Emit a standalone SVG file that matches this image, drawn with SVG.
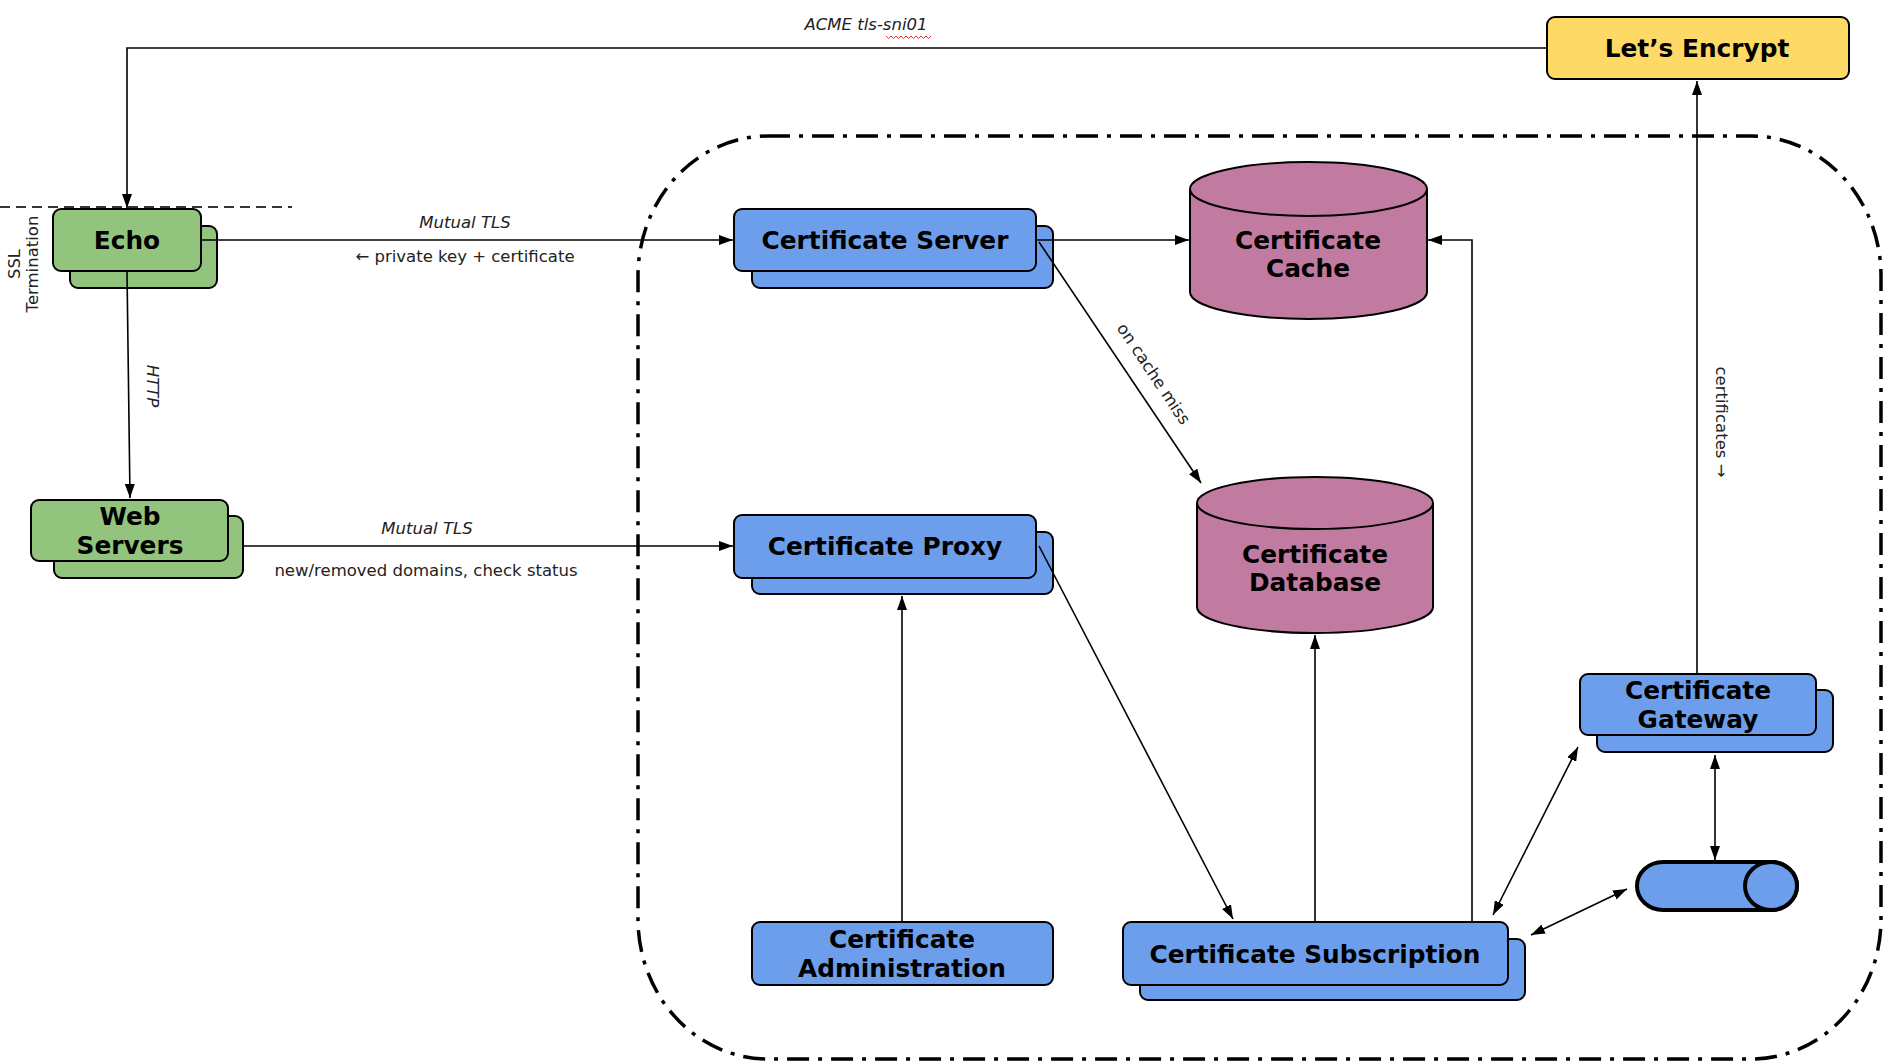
<svg xmlns="http://www.w3.org/2000/svg" width="1883" height="1061" viewBox="0 0 1883 1061">
<style>
.box{stroke:#000;stroke-width:2}
.g{fill:#93c47d}
.b{fill:#6d9eeb}
.m{fill:#c27ba0}
.y{fill:#ffd966}
.lbl{font-family:"DejaVu Sans",Verdana,sans-serif;font-weight:bold;font-size:24.8px;text-anchor:middle;fill:#000}
.sm{font-family:"DejaVu Sans",Verdana,sans-serif;font-size:16.5px;fill:#222;text-anchor:middle}
.it{font-style:italic}
.ln{fill:none;stroke:#000;stroke-width:1.6}
.a{marker-end:url(#ah)}
.bi{marker-start:url(#ah);marker-end:url(#ah)}
</style>
<defs>
<marker id="ah" viewBox="0 0 14 10" refX="14" refY="5" markerWidth="14" markerHeight="10" markerUnits="userSpaceOnUse" orient="auto-start-reverse">
<path d="M0,0 L14,5 L0,10 z" fill="#000"/>
</marker>
</defs>
<rect width="1883" height="1061" fill="#fff"/>

<g id="boundary">
<rect x="638" y="136" width="1243" height="923" rx="130" ry="140" fill="none" stroke="#000" stroke-width="3.5" stroke-dasharray="22 9 4 9"/>
</g>
<g id="ssl-termination">
<path d="M0,207 H292" stroke="#333" stroke-width="2" stroke-dasharray="10 6" fill="none"/>
<text class="sm" transform="rotate(-90 20 264)" x="20" y="264">SSL</text>
<text class="sm" transform="rotate(-90 38 264)" x="38" y="264">Termination</text>
</g>

<g id="lets-encrypt">
<rect class="box y" x="1547" y="17" width="302" height="62" rx="8"/>
<text class="lbl" x="1697" y="57">Let’s Encrypt</text>
</g>
<g id="echo">
<rect class="box g" x="70" y="226" width="147" height="62" rx="8"/>
<rect class="box g" x="53" y="209" width="148" height="62" rx="8"/>
<text class="lbl" x="127" y="249">Echo</text>
</g>
<g id="web-servers">
<rect class="box g" x="54" y="516" width="189" height="62" rx="8"/>
<rect class="box g" x="31" y="500" width="197" height="61" rx="8"/>
<text class="lbl" x="130" y="525">Web</text>
<text class="lbl" x="130" y="554">Servers</text>
</g>
<g id="certificate-server">
<rect class="box b" x="752" y="226" width="301" height="62" rx="8"/>
<rect class="box b" x="734" y="209" width="302" height="62" rx="8"/>
<text class="lbl" x="885" y="249">Certificate Server</text>
</g>
<g id="certificate-proxy">
<rect class="box b" x="752" y="532" width="301" height="62" rx="8"/>
<rect class="box b" x="734" y="515" width="302" height="63" rx="8"/>
<text class="lbl" x="885" y="555">Certificate Proxy</text>
</g>
<g id="certificate-cache">
<path class="box m" d="M1190,189 A118.5,27 0 0 1 1427,189 V292 A118.5,27 0 0 1 1190,292 Z"/>
<path class="box" fill="none" d="M1190,189 A118.5,27 0 0 0 1427,189"/>
<text class="lbl" x="1308" y="249">Certificate</text>
<text class="lbl" x="1308" y="277">Cache</text>
</g>
<g id="certificate-database">
<path class="box m" d="M1197,503 A118,26 0 0 1 1433,503 V607 A118,26 0 0 1 1197,607 Z"/>
<path class="box" fill="none" d="M1197,503 A118,26 0 0 0 1433,503"/>
<text class="lbl" x="1315" y="563">Certificate</text>
<text class="lbl" x="1315" y="591">Database</text>
</g>
<g id="certificate-administration">
<rect class="box b" x="752" y="922" width="301" height="63" rx="8"/>
<text class="lbl" x="902" y="948">Certificate</text>
<text class="lbl" x="902" y="977">Administration</text>
</g>
<g id="certificate-subscription">
<rect class="box b" x="1140" y="939" width="385" height="61" rx="8"/>
<rect class="box b" x="1123" y="922" width="385" height="63" rx="8"/>
<text class="lbl" x="1315" y="963">Certificate Subscription</text>
</g>
<g id="certificate-gateway">
<rect class="box b" x="1597" y="690" width="236" height="62" rx="8"/>
<rect class="box b" x="1580" y="674" width="236" height="61" rx="8"/>
<text class="lbl" x="1698" y="699">Certificate</text>
<text class="lbl" x="1698" y="728">Gateway</text>
</g>
<g id="queue">
<path class="b" stroke="#000" stroke-width="4" d="M1663,862 H1771 A26,24 0 0 1 1771,910 H1663 A26,24 0 0 1 1663,862 Z"/>
<ellipse class="b" stroke="#000" stroke-width="4" cx="1771" cy="886" rx="26" ry="24"/>
</g>

<g id="connectors">
<path class="ln a" d="M1547,48 H127 V208"/>
<path class="ln a" d="M201,240 H733"/>
<path class="ln a" d="M1036,240 H1189"/>
<path class="ln a" d="M1039,242 L1201,483"/>
<path class="ln a" d="M127,271 L130,498"/>
<path class="ln a" d="M243,546 H733"/>
<path class="ln a" d="M1039,546 L1233,919"/>
<path class="ln a" d="M902,922 V596"/>
<path class="ln a" d="M1315,922 V635"/>
<path class="ln a" d="M1472,922 V240 H1428"/>
<path class="ln a" d="M1697,674 V81"/>
<path class="ln bi" d="M1493,915 L1578,747"/>
<path class="ln bi" d="M1715,755 V860"/>
<path class="ln bi" d="M1531,935 L1627,889"/>
<text class="sm it" x="866" y="30">ACME tls-sni01</text>
<path d="M886,36 l2.5,2.5 l2.5,-2.5 l2.5,2.5 l2.5,-2.5 l2.5,2.5 l2.5,-2.5 l2.5,2.5 l2.5,-2.5 l2.5,2.5 l2.5,-2.5 l2.5,2.5 l2.5,-2.5 l2.5,2.5 l2.5,-2.5 l2.5,2.5 l2.5,-2.5 l2.5,2.5 l2.5,-2.5" fill="none" stroke="#e03030" stroke-width="1"/>
<text class="sm it" x="465" y="228">Mutual TLS</text>
<text class="sm" x="465" y="262">← private key + certificate</text>
<text class="sm it" transform="rotate(90 147 386)" x="147" y="386">HTTP</text>
<text class="sm it" x="427" y="534">Mutual TLS</text>
<text class="sm" x="426" y="576">new/removed domains, check status</text>
<text class="sm" transform="rotate(56.3 1149 377)" x="1149" y="377">on cache miss</text>
<text class="sm" transform="rotate(90 1716 422)" x="1716" y="422">certificates →</text>
</g>
</svg>
